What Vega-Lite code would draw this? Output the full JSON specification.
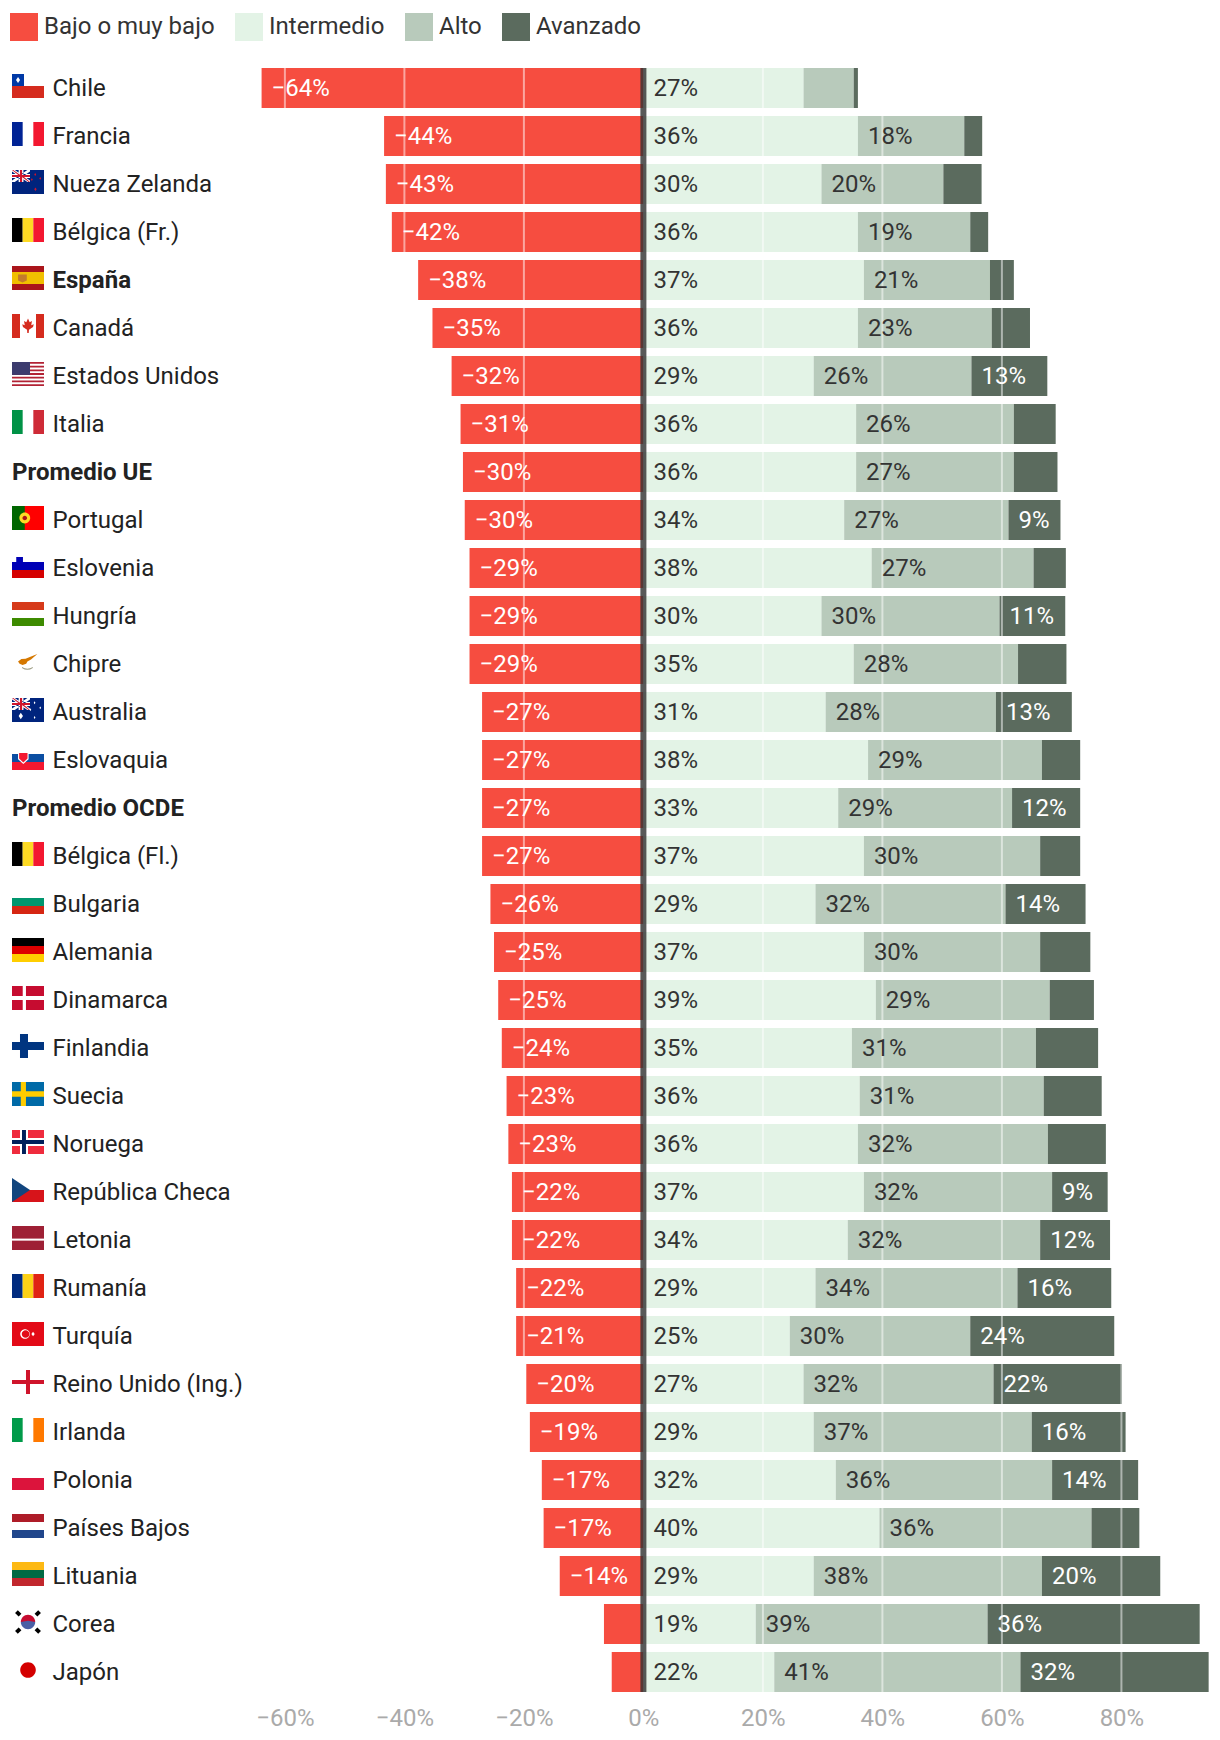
{
"$schema":"https://vega.github.io/schema/vega-lite/v6.json",
"autosize":{"type":"none"},
"padding":{"left":0,"top":0,"right":0,"bottom":44},
"width":1220,"height":1696,
"background":"white",
"config":{"view":{"stroke":null},"font":"Roboto"},
"datasets":{
"datos":[
{"pais":"Chile","nivel":"Bajo o muy bajo","valor":-63.9,"etiqueta":"−64%"},{"pais":"Chile","nivel":"Intermedio","valor":26.8,"etiqueta":"27%"},{"pais":"Chile","nivel":"Alto","valor":8.4},{"pais":"Chile","nivel":"Avanzado","valor":0.7},
{"pais":"Francia","nivel":"Bajo o muy bajo","valor":-43.4,"etiqueta":"−44%"},{"pais":"Francia","nivel":"Intermedio","valor":35.9,"etiqueta":"36%"},{"pais":"Francia","nivel":"Alto","valor":17.8,"etiqueta":"18%"},{"pais":"Francia","nivel":"Avanzado","valor":3.0},
{"pais":"Nueza Zelanda","nivel":"Bajo o muy bajo","valor":-43.1,"etiqueta":"−43%"},{"pais":"Nueza Zelanda","nivel":"Intermedio","valor":29.8,"etiqueta":"30%"},{"pais":"Nueza Zelanda","nivel":"Alto","valor":20.4,"etiqueta":"20%"},{"pais":"Nueza Zelanda","nivel":"Avanzado","valor":6.4},
{"pais":"Bélgica (Fr.)","nivel":"Bajo o muy bajo","valor":-42.1,"etiqueta":"−42%"},{"pais":"Bélgica (Fr.)","nivel":"Intermedio","valor":35.9,"etiqueta":"36%"},{"pais":"Bélgica (Fr.)","nivel":"Alto","valor":18.8,"etiqueta":"19%"},{"pais":"Bélgica (Fr.)","nivel":"Avanzado","valor":3.0},
{"pais":"España","nivel":"Bajo o muy bajo","valor":-37.7,"etiqueta":"−38%"},{"pais":"España","nivel":"Intermedio","valor":36.9,"etiqueta":"37%"},{"pais":"España","nivel":"Alto","valor":21.1,"etiqueta":"21%"},{"pais":"España","nivel":"Avanzado","valor":4.0},
{"pais":"Canadá","nivel":"Bajo o muy bajo","valor":-35.3,"etiqueta":"−35%"},{"pais":"Canadá","nivel":"Intermedio","valor":35.9,"etiqueta":"36%"},{"pais":"Canadá","nivel":"Alto","valor":22.4,"etiqueta":"23%"},{"pais":"Canadá","nivel":"Avanzado","valor":6.4},
{"pais":"Estados Unidos","nivel":"Bajo o muy bajo","valor":-32.1,"etiqueta":"−32%"},{"pais":"Estados Unidos","nivel":"Intermedio","valor":28.5,"etiqueta":"29%"},{"pais":"Estados Unidos","nivel":"Alto","valor":26.4,"etiqueta":"26%"},{"pais":"Estados Unidos","nivel":"Avanzado","valor":12.7,"etiqueta":"13%"},
{"pais":"Italia","nivel":"Bajo o muy bajo","valor":-30.6,"etiqueta":"−31%"},{"pais":"Italia","nivel":"Intermedio","valor":35.6,"etiqueta":"36%"},{"pais":"Italia","nivel":"Alto","valor":26.4,"etiqueta":"26%"},{"pais":"Italia","nivel":"Avanzado","valor":7.0},
{"pais":"Promedio UE","nivel":"Bajo o muy bajo","valor":-30.2,"etiqueta":"−30%"},{"pais":"Promedio UE","nivel":"Intermedio","valor":35.6,"etiqueta":"36%"},{"pais":"Promedio UE","nivel":"Alto","valor":26.4,"etiqueta":"27%"},{"pais":"Promedio UE","nivel":"Avanzado","valor":7.3},
{"pais":"Portugal","nivel":"Bajo o muy bajo","valor":-29.9,"etiqueta":"−30%"},{"pais":"Portugal","nivel":"Intermedio","valor":33.6,"etiqueta":"34%"},{"pais":"Portugal","nivel":"Alto","valor":27.5,"etiqueta":"27%"},{"pais":"Portugal","nivel":"Avanzado","valor":8.7,"etiqueta":"9%"},
{"pais":"Eslovenia","nivel":"Bajo o muy bajo","valor":-29.1,"etiqueta":"−29%"},{"pais":"Eslovenia","nivel":"Intermedio","valor":38.2,"etiqueta":"38%"},{"pais":"Eslovenia","nivel":"Alto","valor":27.1,"etiqueta":"27%"},{"pais":"Eslovenia","nivel":"Avanzado","valor":5.4},
{"pais":"Hungría","nivel":"Bajo o muy bajo","valor":-29.1,"etiqueta":"−29%"},{"pais":"Hungría","nivel":"Intermedio","valor":29.8,"etiqueta":"30%"},{"pais":"Hungría","nivel":"Alto","valor":29.8,"etiqueta":"30%"},{"pais":"Hungría","nivel":"Avanzado","valor":11.0,"etiqueta":"11%"},
{"pais":"Chipre","nivel":"Bajo o muy bajo","valor":-29.1,"etiqueta":"−29%"},{"pais":"Chipre","nivel":"Intermedio","valor":35.2,"etiqueta":"35%"},{"pais":"Chipre","nivel":"Alto","valor":27.5,"etiqueta":"28%"},{"pais":"Chipre","nivel":"Avanzado","valor":8.1},
{"pais":"Australia","nivel":"Bajo o muy bajo","valor":-27.0,"etiqueta":"−27%"},{"pais":"Australia","nivel":"Intermedio","valor":30.5,"etiqueta":"31%"},{"pais":"Australia","nivel":"Alto","valor":28.5,"etiqueta":"28%"},{"pais":"Australia","nivel":"Avanzado","valor":12.7,"etiqueta":"13%"},
{"pais":"Eslovaquia","nivel":"Bajo o muy bajo","valor":-27.0,"etiqueta":"−27%"},{"pais":"Eslovaquia","nivel":"Intermedio","valor":37.6,"etiqueta":"38%"},{"pais":"Eslovaquia","nivel":"Alto","valor":29.1,"etiqueta":"29%"},{"pais":"Eslovaquia","nivel":"Avanzado","valor":6.4},
{"pais":"Promedio OCDE","nivel":"Bajo o muy bajo","valor":-27.0,"etiqueta":"−27%"},{"pais":"Promedio OCDE","nivel":"Intermedio","valor":32.6,"etiqueta":"33%"},{"pais":"Promedio OCDE","nivel":"Alto","valor":29.1,"etiqueta":"29%"},{"pais":"Promedio OCDE","nivel":"Avanzado","valor":11.4,"etiqueta":"12%"},
{"pais":"Bélgica (Fl.)","nivel":"Bajo o muy bajo","valor":-27.0,"etiqueta":"−27%"},{"pais":"Bélgica (Fl.)","nivel":"Intermedio","valor":36.9,"etiqueta":"37%"},{"pais":"Bélgica (Fl.)","nivel":"Alto","valor":29.5,"etiqueta":"30%"},{"pais":"Bélgica (Fl.)","nivel":"Avanzado","valor":6.7},
{"pais":"Bulgaria","nivel":"Bajo o muy bajo","valor":-25.6,"etiqueta":"−26%"},{"pais":"Bulgaria","nivel":"Intermedio","valor":28.8,"etiqueta":"29%"},{"pais":"Bulgaria","nivel":"Alto","valor":31.8,"etiqueta":"32%"},{"pais":"Bulgaria","nivel":"Avanzado","valor":13.4,"etiqueta":"14%"},
{"pais":"Alemania","nivel":"Bajo o muy bajo","valor":-25.0,"etiqueta":"−25%"},{"pais":"Alemania","nivel":"Intermedio","valor":36.9,"etiqueta":"37%"},{"pais":"Alemania","nivel":"Alto","valor":29.5,"etiqueta":"30%"},{"pais":"Alemania","nivel":"Avanzado","valor":8.4},
{"pais":"Dinamarca","nivel":"Bajo o muy bajo","valor":-24.3,"etiqueta":"−25%"},{"pais":"Dinamarca","nivel":"Intermedio","valor":38.9,"etiqueta":"39%"},{"pais":"Dinamarca","nivel":"Alto","valor":29.1,"etiqueta":"29%"},{"pais":"Dinamarca","nivel":"Avanzado","valor":7.4},
{"pais":"Finlandia","nivel":"Bajo o muy bajo","valor":-23.7,"etiqueta":"−24%"},{"pais":"Finlandia","nivel":"Intermedio","valor":34.9,"etiqueta":"35%"},{"pais":"Finlandia","nivel":"Alto","valor":30.8,"etiqueta":"31%"},{"pais":"Finlandia","nivel":"Avanzado","valor":10.4},
{"pais":"Suecia","nivel":"Bajo o muy bajo","valor":-22.9,"etiqueta":"−23%"},{"pais":"Suecia","nivel":"Intermedio","valor":36.2,"etiqueta":"36%"},{"pais":"Suecia","nivel":"Alto","valor":30.8,"etiqueta":"31%"},{"pais":"Suecia","nivel":"Avanzado","valor":9.7},
{"pais":"Noruega","nivel":"Bajo o muy bajo","valor":-22.6,"etiqueta":"−23%"},{"pais":"Noruega","nivel":"Intermedio","valor":35.9,"etiqueta":"36%"},{"pais":"Noruega","nivel":"Alto","valor":31.8,"etiqueta":"32%"},{"pais":"Noruega","nivel":"Avanzado","valor":9.7},
{"pais":"República Checa","nivel":"Bajo o muy bajo","valor":-22.0,"etiqueta":"−22%"},{"pais":"República Checa","nivel":"Intermedio","valor":36.9,"etiqueta":"37%"},{"pais":"República Checa","nivel":"Alto","valor":31.5,"etiqueta":"32%"},{"pais":"República Checa","nivel":"Avanzado","valor":9.3,"etiqueta":"9%"},
{"pais":"Letonia","nivel":"Bajo o muy bajo","valor":-22.0,"etiqueta":"−22%"},{"pais":"Letonia","nivel":"Intermedio","valor":34.2,"etiqueta":"34%"},{"pais":"Letonia","nivel":"Alto","valor":32.2,"etiqueta":"32%"},{"pais":"Letonia","nivel":"Avanzado","valor":11.7,"etiqueta":"12%"},
{"pais":"Rumanía","nivel":"Bajo o muy bajo","valor":-21.3,"etiqueta":"−22%"},{"pais":"Rumanía","nivel":"Intermedio","valor":28.8,"etiqueta":"29%"},{"pais":"Rumanía","nivel":"Alto","valor":33.8,"etiqueta":"34%"},{"pais":"Rumanía","nivel":"Avanzado","valor":15.7,"etiqueta":"16%"},
{"pais":"Turquía","nivel":"Bajo o muy bajo","valor":-21.3,"etiqueta":"−21%"},{"pais":"Turquía","nivel":"Intermedio","valor":24.5,"etiqueta":"25%"},{"pais":"Turquía","nivel":"Alto","valor":30.2,"etiqueta":"30%"},{"pais":"Turquía","nivel":"Avanzado","valor":24.1,"etiqueta":"24%"},
{"pais":"Reino Unido (Ing.)","nivel":"Bajo o muy bajo","valor":-19.6,"etiqueta":"−20%"},{"pais":"Reino Unido (Ing.)","nivel":"Intermedio","valor":26.8,"etiqueta":"27%"},{"pais":"Reino Unido (Ing.)","nivel":"Alto","valor":31.8,"etiqueta":"32%"},{"pais":"Reino Unido (Ing.)","nivel":"Avanzado","valor":21.5,"etiqueta":"22%"},
{"pais":"Irlanda","nivel":"Bajo o muy bajo","valor":-19.0,"etiqueta":"−19%"},{"pais":"Irlanda","nivel":"Intermedio","valor":28.5,"etiqueta":"29%"},{"pais":"Irlanda","nivel":"Alto","valor":36.5,"etiqueta":"37%"},{"pais":"Irlanda","nivel":"Avanzado","valor":15.7,"etiqueta":"16%"},
{"pais":"Polonia","nivel":"Bajo o muy bajo","valor":-17.0,"etiqueta":"−17%"},{"pais":"Polonia","nivel":"Intermedio","valor":32.2,"etiqueta":"32%"},{"pais":"Polonia","nivel":"Alto","valor":36.2,"etiqueta":"36%"},{"pais":"Polonia","nivel":"Avanzado","valor":14.4,"etiqueta":"14%"},
{"pais":"Países Bajos","nivel":"Bajo o muy bajo","valor":-16.7,"etiqueta":"−17%"},{"pais":"Países Bajos","nivel":"Intermedio","valor":39.5,"etiqueta":"40%"},{"pais":"Países Bajos","nivel":"Alto","valor":35.5,"etiqueta":"36%"},{"pais":"Países Bajos","nivel":"Avanzado","valor":8.0},
{"pais":"Lituania","nivel":"Bajo o muy bajo","valor":-14.0,"etiqueta":"−14%"},{"pais":"Lituania","nivel":"Intermedio","valor":28.5,"etiqueta":"29%"},{"pais":"Lituania","nivel":"Alto","valor":38.2,"etiqueta":"38%"},{"pais":"Lituania","nivel":"Avanzado","valor":19.8,"etiqueta":"20%"},
{"pais":"Corea","nivel":"Bajo o muy bajo","valor":-6.6},{"pais":"Corea","nivel":"Intermedio","valor":18.8,"etiqueta":"19%"},{"pais":"Corea","nivel":"Alto","valor":38.8,"etiqueta":"39%"},{"pais":"Corea","nivel":"Avanzado","valor":35.5,"etiqueta":"36%"},
{"pais":"Japón","nivel":"Bajo o muy bajo","valor":-5.3},{"pais":"Japón","nivel":"Intermedio","valor":21.9,"etiqueta":"22%"},{"pais":"Japón","nivel":"Alto","valor":41.2,"etiqueta":"41%"},{"pais":"Japón","nivel":"Avanzado","valor":31.5,"etiqueta":"32%"}
],
"marcas":[{"marca":-60},{"marca":-40},{"marca":-20},{"marca":20},{"marca":40},{"marca":60},{"marca":80}],
"banderas":[
{"pais":"Chile","forma":"mitadInf","tono":"rojoChile"},{"pais":"Chile","forma":"cantonChile","tono":"azulChile"},{"pais":"Chile","forma":"estrellaChile","tono":"blanco"},
{"pais":"Francia","forma":"v1","tono":"azulFrancia"},{"pais":"Francia","forma":"v3","tono":"rojoVivo"},
{"pais":"Nueza Zelanda","forma":"pleno","tono":"azulUnion"},{"pais":"Nueza Zelanda","forma":"unionBlanca","tono":"blanco"},{"pais":"Nueza Zelanda","forma":"unionRoja","tono":"rojoUnion"},{"pais":"Nueza Zelanda","forma":"estrellasNZ","tono":"rojoUnion"},
{"pais":"Bélgica (Fr.)","forma":"v1","tono":"negro"},{"pais":"Bélgica (Fr.)","forma":"v2","tono":"amarillo"},{"pais":"Bélgica (Fr.)","forma":"v3","tono":"rojoVivo"},
{"pais":"España","forma":"pleno","tono":"amarilloEsp"},{"pais":"España","forma":"espBandas","tono":"rojoEsp"},{"pais":"España","forma":"escudoEsp","tono":"escudoEsp"},
{"pais":"Canadá","forma":"canLados","tono":"rojoChile"},{"pais":"Canadá","forma":"hoja","tono":"rojoChile"},
{"pais":"Estados Unidos","forma":"rayasEU","tono":"rojoEU"},{"pais":"Estados Unidos","forma":"cantonEU","tono":"azulEU"},
{"pais":"Italia","forma":"v1","tono":"verdeItalia"},{"pais":"Italia","forma":"v3","tono":"rojoItalia"},
{"pais":"Portugal","forma":"pleno","tono":"rojoPuro"},{"pais":"Portugal","forma":"ladoPt","tono":"verdePt"},{"pais":"Portugal","forma":"esferaPt","tono":"amarillo"},{"pais":"Portugal","forma":"nucleoPt","tono":"rojoEsp"},
{"pais":"Eslovenia","forma":"h2","tono":"azulSi"},{"pais":"Eslovenia","forma":"h3","tono":"rojoSi"},{"pais":"Eslovenia","forma":"escudoSi","tono":"azulSi"},
{"pais":"Hungría","forma":"h1","tono":"rojoHu"},{"pais":"Hungría","forma":"h3","tono":"verdeHu"},
{"pais":"Chipre","forma":"isla","tono":"naranjaCy"},{"pais":"Chipre","forma":"ramas","tono":"grisCy"},
{"pais":"Australia","forma":"pleno","tono":"azulUnion"},{"pais":"Australia","forma":"unionBlanca","tono":"blanco"},{"pais":"Australia","forma":"unionRoja","tono":"rojoUnion"},{"pais":"Australia","forma":"estrellasAu","tono":"blanco"},
{"pais":"Eslovaquia","forma":"h2","tono":"azulSk"},{"pais":"Eslovaquia","forma":"h3","tono":"rojoVivo"},{"pais":"Eslovaquia","forma":"escudoSkB","tono":"blanco"},{"pais":"Eslovaquia","forma":"escudoSkR","tono":"rojoVivo"},
{"pais":"Bélgica (Fl.)","forma":"v1","tono":"negro"},{"pais":"Bélgica (Fl.)","forma":"v2","tono":"amarillo"},{"pais":"Bélgica (Fl.)","forma":"v3","tono":"rojoVivo"},
{"pais":"Bulgaria","forma":"h2","tono":"verdeBg"},{"pais":"Bulgaria","forma":"h3","tono":"rojoBg"},
{"pais":"Alemania","forma":"h1","tono":"negro"},{"pais":"Alemania","forma":"h2","tono":"rojoDe"},{"pais":"Alemania","forma":"h3","tono":"amarilloDe"},
{"pais":"Dinamarca","forma":"pleno","tono":"rojoDk"},{"pais":"Dinamarca","forma":"cruzDk","tono":"blanco"},
{"pais":"Finlandia","forma":"cruzFi","tono":"azulFi"},
{"pais":"Suecia","forma":"pleno","tono":"azulSe"},{"pais":"Suecia","forma":"cruzSe","tono":"amarilloSe"},
{"pais":"Noruega","forma":"pleno","tono":"rojoNo"},{"pais":"Noruega","forma":"cruzFi","tono":"blanco"},{"pais":"Noruega","forma":"cruzNo","tono":"azulNo"},
{"pais":"República Checa","forma":"mitadInf","tono":"rojoCz"},{"pais":"República Checa","forma":"trianguloCz","tono":"azulCz"},
{"pais":"Letonia","forma":"pleno","tono":"granate"},{"pais":"Letonia","forma":"bandaLv","tono":"blanco"},
{"pais":"Rumanía","forma":"v1","tono":"azulRo"},{"pais":"Rumanía","forma":"v2","tono":"amarilloRo"},{"pais":"Rumanía","forma":"v3","tono":"rojoRo"},
{"pais":"Turquía","forma":"pleno","tono":"rojoTr"},{"pais":"Turquía","forma":"lunaB","tono":"blanco"},{"pais":"Turquía","forma":"lunaR","tono":"rojoTr"},{"pais":"Turquía","forma":"estrellaTr","tono":"blanco"},
{"pais":"Reino Unido (Ing.)","forma":"cruzEn","tono":"rojoEn"},
{"pais":"Irlanda","forma":"v1","tono":"verdeIe"},{"pais":"Irlanda","forma":"v3","tono":"naranjaIe"},
{"pais":"Polonia","forma":"mitadInf","tono":"rojoPl"},
{"pais":"Países Bajos","forma":"h1","tono":"rojoNl"},{"pais":"Países Bajos","forma":"h3","tono":"azulNl"},
{"pais":"Lituania","forma":"h1","tono":"amarilloLt"},{"pais":"Lituania","forma":"h2","tono":"verdeLt"},{"pais":"Lituania","forma":"h3","tono":"rojoLt"},
{"pais":"Corea","forma":"trigramas","tono":"negro"},{"pais":"Corea","forma":"taegukR","tono":"rojoKr"},{"pais":"Corea","forma":"taegukA","tono":"azulKr"},
{"pais":"Japón","forma":"solJp","tono":"rojoJp"}
]
},
"encoding":{"y":{"field":"pais","type":"nominal","sort":null,"axis":null,"scale":{"domain":["Chile","Francia","Nueza Zelanda","Bélgica (Fr.)","España","Canadá","Estados Unidos","Italia","Promedio UE","Portugal","Eslovenia","Hungría","Chipre","Australia","Eslovaquia","Promedio OCDE","Bélgica (Fl.)","Bulgaria","Alemania","Dinamarca","Finlandia","Suecia","Noruega","República Checa","Letonia","Rumanía","Turquía","Reino Unido (Ing.)","Irlanda","Polonia","Países Bajos","Lituania","Corea","Japón"],"range":[64,1696],"paddingInner":0.16667,"paddingOuter":0.08333}}},
"layer":[
{"layer":[
{"data":{"name":"datos"},
"transform":[{"stack":"valor","groupby":["pais"],"as":["ini","fin"]}],
"mark":{"type":"bar"},
"encoding":{
"x":{"field":"ini","type":"quantitative","title":null,"scale":{"domain":[-107.68,96.5],"nice":false,"zero":false},
"axis":{"values":[-60,-40,-20,0,20,40,60,80],"labelExpr":"replace(format(datum.value,'d'),'-','−')+'%'","title":null,"grid":false,"ticks":false,"domain":false,"labelFont":"Roboto","labelFontSize":24,"labelColor":"#aaaaaa","labelPadding":10,"labelFlush":false,"labelOverlap":false}},
"x2":{"field":"fin"},
"color":{"field":"nivel","type":"nominal","scale":{"domain":["Bajo o muy bajo","Intermedio","Alto","Avanzado"],"range":["#F64D40","#E3F3E6","#B8CABB","#5B6B5E"]},
"legend":{"orient":"none","legendX":10,"legendY":13,"direction":"horizontal","title":null,"symbolType":"square","symbolSize":784,"symbolStrokeWidth":0,"symbolOpacity":1,"labelFont":"Roboto","labelFontSize":24,"labelColor":"#333333","labelOffset":6,"labelLimit":300,"columnPadding":20,"columns":4,"clipHeight":28}}
}},
{"data":{"name":"marcas"},
"mark":{"type":"rule","color":"white","opacity":0.5,"strokeWidth":2,"yOffset":-20,"y2Offset":20},
"encoding":{"x":{"field":"marca","type":"quantitative","title":null},"y":{"datum":"Chile"},"y2":{"datum":"Japón"}}},
{"data":{"values":[{"cero":0}]},
"mark":{"type":"rule","color":"#333333","opacity":0.81,"strokeWidth":6,"yOffset":-20,"y2Offset":20},
"encoding":{"x":{"field":"cero","type":"quantitative","title":null},"y":{"datum":"Chile"},"y2":{"datum":"Japón"}}},
{"data":{"name":"datos"},
"transform":[{"stack":"valor","groupby":["pais"],"as":["ini","fin"]},{"filter":"datum.nivel==='Bajo o muy bajo' && isValid(datum.etiqueta)"}],
"mark":{"type":"text","font":"Roboto","fontSize":24,"align":"left","baseline":"middle","dx":10,"dy":1,"color":"#ffffff"},
"encoding":{"x":{"field":"fin","type":"quantitative","title":null},"text":{"field":"etiqueta"}}},
{"data":{"name":"datos"},
"transform":[{"stack":"valor","groupby":["pais"],"as":["ini","fin"]},{"filter":"datum.nivel!=='Bajo o muy bajo' && isValid(datum.etiqueta)"}],
"mark":{"type":"text","font":"Roboto","fontSize":24,"align":"left","baseline":"middle","dx":10,"dy":1},
"encoding":{"x":{"field":"ini","type":"quantitative","title":null},"text":{"field":"etiqueta"},
"color":{"condition":{"test":"datum.nivel==='Avanzado'","value":"#ffffff"},"value":"#333333"}}}
]},
{"data":{"name":"banderas"},
"mark":{"type":"point","filled":true,"opacity":1,"size":576,"strokeWidth":0,"yOffset":-2},
"encoding":{
"x":{"datum":0.5,"scale":{"domain":[0,1],"range":[12,44]},"axis":null},
"shape":{"field":"forma","type":"nominal","legend":null,"scale":{
"domain":["pleno","v1","v2","v3","h1","h2","h3","mitadInf","cantonChile","estrellaChile","unionBlanca","unionRoja","estrellasNZ","estrellasAu","espBandas","escudoEsp","canLados","hoja","rayasEU","cantonEU","ladoPt","esferaPt","nucleoPt","escudoSi","isla","ramas","escudoSkB","escudoSkR","cruzDk","cruzFi","cruzSe","cruzNo","trianguloCz","bandaLv","lunaB","lunaR","estrellaTr","cruzEn","trigramas","taegukR","taegukA","solJp"],
"range":[
"M-1.333 -1H1.333V1H-1.333Z",
"M-1.333 -1H-0.444V1H-1.333Z",
"M-0.444 -1H0.444V1H-0.444Z",
"M0.444 -1H1.333V1H0.444Z",
"M-1.333 -1H1.333V-0.333H-1.333Z",
"M-1.333 -0.333H1.333V0.333H-1.333Z",
"M-1.333 0.333H1.333V1H-1.333Z",
"M-1.333 0H1.333V1H-1.333Z",
"M-1.333 -1H-0.333V0H-1.333Z",
"M-0.83 -0.75L-0.66 -0.5L-0.83 -0.25L-1 -0.5Z",
"M-1.333 -1L-1.1 -1L0.167 -0.12L0.167 0L-0.05 0L-1.333 -0.88Z M0.167 -1L-0.05 -1L-1.333 -0.12L-1.333 0L-1.1 0L0.167 -0.88Z M-1.333 -0.67H0.167V-0.33H-1.333Z M-0.78 -1H-0.38V0H-0.78Z",
"M-1.333 -0.58H0.167V-0.42H-1.333Z M-0.67 -1H-0.49V0H-0.67Z M-1.333 -1L-1.23 -1L-0.58 -0.55L-0.7 -0.5Z M0.167 0L0.06 0L-0.5 -0.42L-0.38 -0.45Z",
"M0.6 -0.75L0.68 -0.63L0.6 -0.51L0.52 -0.63Z M1.02 -0.42L1.1 -0.3L1.02 -0.18L0.94 -0.3Z M0.32 -0.32L0.4 -0.2L0.32 -0.08L0.24 -0.2Z M0.62 0.45L0.72 0.6L0.62 0.75L0.52 0.6Z",
"M-0.6 0.22L-0.42 0.5L-0.6 0.78L-0.78 0.5Z M0.55 -0.72L0.62 -0.6L0.55 -0.48L0.48 -0.6Z M1.02 -0.3L1.09 -0.18L1.02 -0.06L0.95 -0.18Z M0.55 0.5L0.62 0.62L0.55 0.74L0.48 0.62Z M0.2 -0.15L0.27 -0.03L0.2 0.09L0.13 -0.03Z",
"M-1.333 -1H1.333V-0.5H-1.333Z M-1.333 0.5H1.333V1H-1.333Z",
"M-0.83 -0.3H-0.1V0.2L-0.46 0.38L-0.83 0.2Z",
"M-1.333 -1H-0.667V1H-1.333Z M0.667 -1H1.333V1H0.667Z",
"M0 -0.62L0.14 -0.32L0.33 -0.42L0.27 -0.07L0.48 -0.14L0.42 0.08L0.08 0.32L0.06 0.58L-0.06 0.58L-0.08 0.32L-0.42 0.08L-0.48 -0.14L-0.27 -0.07L-0.33 -0.42L-0.14 -0.32Z",
"M-1.333 -1H1.333V-0.846H-1.333Z M-1.333 -0.692H1.333V-0.538H-1.333Z M-1.333 -0.385H1.333V-0.231H-1.333Z M-1.333 -0.077H1.333V0.077H-1.333Z M-1.333 0.231H1.333V0.385H-1.333Z M-1.333 0.538H1.333V0.692H-1.333Z M-1.333 0.846H1.333V1H-1.333Z",
"M-1.333 -1H0.167V0.077H-1.333Z",
"M-1.333 -1H-0.27V1H-1.333Z",
"M-0.72 0A0.45 0.45 0 1 0 0.18 0A0.45 0.45 0 1 0 -0.72 0Z",
"M-0.46 0A0.19 0.19 0 1 0 -0.08 0A0.19 0.19 0 1 0 -0.46 0Z",
"M-0.98 -0.75H-0.42V-0.3L-0.7 -0.05L-0.98 -0.3Z",
"M-0.83 -0.05L-0.55 -0.25L-0.2 -0.28L0.15 -0.42L0.78 -0.67L0.25 -0.2L-0.05 -0.05L-0.15 0.15L-0.45 0.25L-0.7 0.15Z",
"M-0.5 0.42Q-0.05 0.72 0.4 0.42L0.4 0.49Q-0.05 0.82 -0.5 0.49Z",
"M-0.83 -0.5H0.05V0.1L-0.39 0.5L-0.83 0.1Z",
"M-0.74 -0.42H-0.04V0.05L-0.39 0.38L-0.74 0.05Z",
"M-0.44 -1H-0.17V-0.17H1.333V0.17H-0.17V1H-0.44V0.17H-1.333V-0.17H-0.44Z",
"M-0.667 -1H0V-0.333H1.333V0.333H0V1H-0.667V0.333H-1.333V-0.333H-0.667Z",
"M-0.6 -1H-0.17V-0.22H1.333V0.22H-0.17V1H-0.6V0.22H-1.333V-0.22H-0.6Z",
"M-0.5 -1H-0.17V-0.17H1.333V0.17H-0.17V1H-0.5V0.17H-1.333V-0.17H-0.5Z",
"M-1.333 -1L0.167 0L-1.333 1Z",
"M-1.333 0.05H1.333V0.22H-1.333Z",
"M-0.65 0A0.4 0.4 0 1 0 0.15 0A0.4 0.4 0 1 0 -0.65 0Z",
"M-0.52 0A0.32 0.32 0 1 0 0.12 0A0.32 0.32 0 1 0 -0.52 0Z",
"M0.42 -0.18L0.56 0L0.42 0.18L0.28 0Z",
"M-0.167 -1H0.167V-0.167H1.333V0.167H0.167V1H-0.167V0.167H-1.333V-0.167H-0.167Z",
"M-0.85 -0.98L-0.55 -0.68L-0.78 -0.45L-1.08 -0.75Z M0.85 -0.98L1.08 -0.75L0.78 -0.45L0.55 -0.68Z M-0.78 0.45L-0.55 0.68L-0.85 0.98L-1.08 0.75Z M0.78 0.45L1.08 0.75L0.85 0.98L0.55 0.68Z",
"M-0.6 0A0.6 0.6 0 0 1 0.6 0L0 0.1Z",
"M-0.6 0A0.6 0.6 0 0 0 0.6 0L0 -0.1Z",
"M-0.65 0A0.65 0.65 0 1 0 0.65 0A0.65 0.65 0 1 0 -0.65 0Z"
]}},
"color":{"field":"tono","type":"nominal","legend":null,"scale":{
"domain":["blanco","negro","amarillo","rojoChile","azulChile","azulFrancia","rojoVivo","azulUnion","rojoUnion","amarilloEsp","rojoEsp","escudoEsp","rojoEU","azulEU","verdeItalia","rojoItalia","rojoPuro","verdePt","azulSi","rojoSi","rojoHu","verdeHu","naranjaCy","grisCy","azulSk","verdeBg","rojoBg","rojoDe","amarilloDe","rojoDk","azulFi","azulSe","amarilloSe","rojoNo","azulNo","rojoCz","azulCz","granate","azulRo","amarilloRo","rojoRo","rojoTr","rojoEn","verdeIe","naranjaIe","rojoPl","rojoNl","azulNl","amarilloLt","verdeLt","rojoLt","rojoKr","azulKr","rojoJp"],
"range":["#ffffff","#000000","#FDDA24","#D52B1E","#0039A6","#002395","#F31830","#00247D","#CF142B","#F1BF00","#AA151B","#C47B2B","#B22234","#3C3B6E","#009246","#CE2B37","#FF0000","#006600","#0000B5","#D50000","#D63A1A","#3D8B00","#D57800","#9A9A80","#0B4EA2","#00966E","#D62612","#DD0000","#FFCE00","#C60C30","#003580","#006AA7","#FECC00","#EF2B3D","#00205B","#D7141A","#11457E","#9E2035","#002B7F","#FCD116","#E02313","#E30A17","#CF142B","#009A49","#FF7900","#DC143C","#AE1C28","#21468B","#FDB913","#006A44","#C1272D","#C60C30","#4A5FA5","#D40000"]
}}
}},
{"data":{"name":"datos"},
"transform":[{"filter":"datum.nivel==='Intermedio' && datum.pais!=='España' && datum.pais!=='Promedio UE' && datum.pais!=='Promedio OCDE'"}],
"mark":{"type":"text","font":"Roboto","fontSize":24,"align":"left","baseline":"middle","color":"#222222","dy":1},
"encoding":{"x":{"datum":1,"scale":{"domain":[0,1],"range":[12,52.5]},"axis":null},"text":{"field":"pais"}}},
{"data":{"name":"datos"},
"transform":[{"filter":"datum.nivel==='Intermedio' && datum.pais==='España'"}],
"mark":{"type":"text","font":"Roboto","fontSize":24,"fontWeight":"bold","align":"left","baseline":"middle","color":"#222222","dy":1},
"encoding":{"x":{"datum":1,"scale":{"domain":[0,1],"range":[12,52.5]},"axis":null},"text":{"field":"pais"}}},
{"data":{"name":"datos"},
"transform":[{"filter":"datum.nivel==='Intermedio' && (datum.pais==='Promedio UE' || datum.pais==='Promedio OCDE')"}],
"mark":{"type":"text","font":"Roboto","fontSize":24,"fontWeight":"bold","align":"left","baseline":"middle","color":"#222222","dy":1},
"encoding":{"x":{"datum":0,"scale":{"domain":[0,1],"range":[12,52.5]},"axis":null},"text":{"field":"pais"}}}
],
"resolve":{"scale":{"x":"independent","color":"independent","shape":"independent"}}
}
